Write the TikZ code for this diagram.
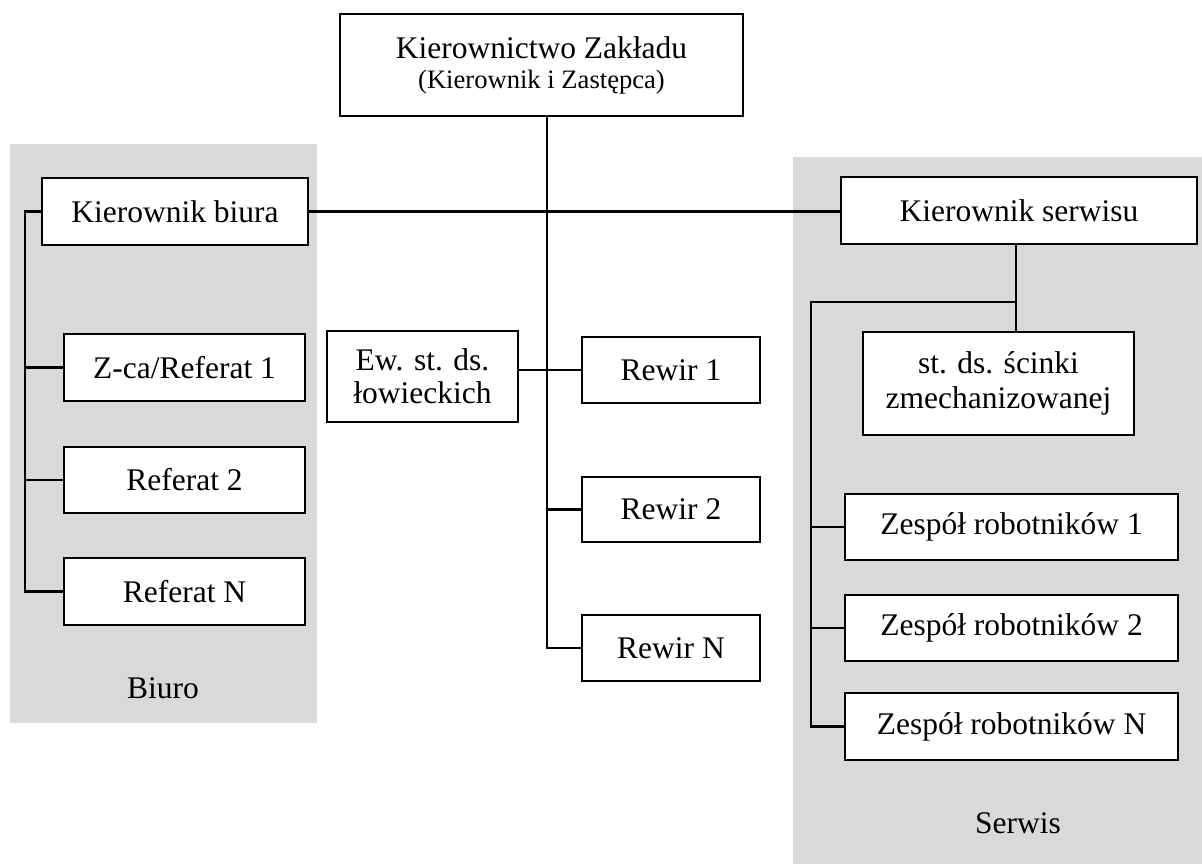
\documentclass[tikz,border=0pt]{standalone}
\usepackage{fontspec}
\setmainfont{Liberation Serif}
\definecolor{panel}{RGB}{217,217,217}
\begin{document}
\begin{tikzpicture}[x=1pt,y=-1pt,
  box/.style={draw, line width=2.7pt, fill=white, inner sep=0pt, align=center,
    font=\fontsize{31.5}{35}\selectfont},
  conn/.style={line width=2.7pt},
  lbl/.style={font=\fontsize{31.5}{35}\selectfont}]
\useasboundingbox (0,0) rectangle (1202,864);
% panels
\fill[panel] (10,144) rectangle (317,723);
\fill[panel] (793,157) rectangle (1202,864);
% nodes
\node[box, minimum width=403pt, minimum height=102pt] (top) at (541.5,65)
  {Kierownictwo Zakładu\\[-5pt]{\fontsize{26.6}{30}\selectfont (Kierownik i Zastępca)}};
\node[box, minimum width=266pt, minimum height=67pt] (kb) at (175,211.5) {Kierownik biura};
\node[box, minimum width=241pt, minimum height=67pt] (z1) at (184.5,367.5) {Z-ca/Referat 1};
\node[box, minimum width=241pt, minimum height=66pt] (r2) at (184.5,480) {Referat 2};
\node[box, minimum width=241pt, minimum height=67pt] (rN) at (184.5,591.5) {Referat N};
\node[box, minimum width=191pt, minimum height=91pt] (ew) at (422.5,376.5) {Ew. st. ds.\\[-2pt]łowieckich};
\node[box, minimum width=178pt, minimum height=66pt] (rw1) at (671,370) {Rewir 1};
\node[box, minimum width=178pt, minimum height=65pt] (rw2) at (671,509.5) {Rewir 2};
\node[box, minimum width=178pt, minimum height=66pt] (rwN) at (671,648) {Rewir N};
\node[box, minimum width=356pt, minimum height=67pt] (ks) at (1019,210.5) {Kierownik serwisu};
\node[box, minimum width=271pt, minimum height=103pt] (sc) at (998.5,383.5) {st. ds. ścinki\\zmechanizowanej};
\node[box, minimum width=333pt, minimum height=66pt] (zr1) at (1011.5,527) {Zespół robotników 1};
\node[box, minimum width=333pt, minimum height=66pt] (zr2) at (1011.5,628) {Zespół robotników 2};
\node[box, minimum width=333pt, minimum height=67pt] (zrN) at (1011.5,726.5) {Zespół robotników N};
\node[lbl] (biuro) at (163,688) {Biuro};
\node[lbl] (serwis) at (1018,823) {Serwis};
% connectors
\coordinate (mt) at ([xshift=5.5pt]top.south);
\draw[conn] (mt) |- (rwN.west);
\draw[conn] (rw2.west) -- (rw2.west -| mt);
\draw[conn] (rw1.west) -- (rw1.west -| ew.east);
\draw[conn] (kb.east) -- (kb.east -| ks.west);
\coordinate (lb) at (25,211.5);
\draw[conn] (kb.west) -- (lb) |- (rN.west);
\draw[conn] (z1.west) -- (z1.west -| lb);
\draw[conn] (r2.west) -- (r2.west -| lb);
\coordinate (rv) at (1016,302);
\coordinate (rb) at (811,302);
\draw[conn] (ks.south -| rv) -- (sc.north -| rv);
\draw[conn] (rv) -- (rb) |- (zrN.west);
\draw[conn] (zr1.west) -- (zr1.west -| rb);
\draw[conn] (zr2.west) -- (zr2.west -| rb);
\end{tikzpicture}
\end{document}
